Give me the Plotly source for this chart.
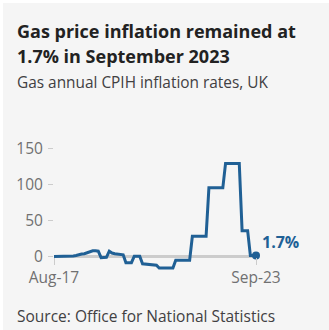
import pandas as pd
import plotly.graph_objects as go

# ---- data ----
months = pd.date_range("2017-08-01", "2023-09-01", freq="MS")
gas_rate = [
    0.0, 0.0, 0.3, 0.5, 0.5,            # Aug-Dec 2017
    0.8, 1.0, 1.0, 1.5, 3.0, 3.5, 4.0, 5.5, 6.5, 8.0, 8.0, 7.5,   # 2018
    -1.5, -1.5, -1.0, 7.5, 5.0, 4.0, 3.5, 3.0, 2.5, -8.5, -8.5, -8.5,  # 2019
    0.5, 0.5, 0.5, -10.0, -10.5, -11.0, -11.0, -11.5, -12.0, -16.0, -16.0, -16.0,  # 2020
    -16.0, -16.0, -16.0, -5.0, -5.0, -5.0, -5.0, -5.0, -5.0, 28.1, 28.1, 28.1,  # 2021
    28.1, 28.1, 28.1, 95.5, 95.5, 95.5, 95.5, 95.5, 95.5, 129.4, 129.4, 129.4,  # 2022
    129.4, 129.4, 129.4, 36.0, 36.0, 36.0, 1.7, 1.7, 1.7,   # Jan-Sep 2023
]
y_ticks = [0, 50, 100, 150]
x_tick_labels = ["Aug-17", "Sep-23"]
title_lines = ["Gas price inflation remained at", "1.7% in September 2023"]
subtitle = "Gas annual CPIH inflation rates, UK"
source = "Source: Office for National Statistics"
last_label = "1.7%"

# ---- layout geometry ----
W, H = 329, 330
L, R, T, B = 54, 73, 145, 59
PW, PH = W - L - R, H - T - B
y_range = [-20, 155]
zero_frac = (0 - y_range[0]) / (y_range[1] - y_range[0])

def pxx(x):
    return (x - L) / PW

def pxy(y):
    return (H - B - y) / PH

BLUE = "#206095"
FONT = "Open Sans"

fig = go.Figure()
fig.add_trace(go.Scatter(
    x=months, y=gas_rate, mode="lines",
    line=dict(color=BLUE, width=3), hoverinfo="skip", showlegend=False,
))
fig.add_trace(go.Scatter(
    x=[months[-1]], y=[gas_rate[-1]], mode="markers",
    marker=dict(color=BLUE, size=8), cliponaxis=False,
    hoverinfo="skip", showlegend=False,
))

annotations = [
    dict(text="<b>%s</b>" % title_lines[0], x=pxx(15), y=pxy(31), xanchor="left", yanchor="middle",
         font=dict(family=FONT, size=18, color="#222222")),
    dict(text="<b>%s</b>" % title_lines[1], x=pxx(15), y=pxy(55.5), xanchor="left", yanchor="middle",
         font=dict(family=FONT, size=18, color="#222222")),
    dict(text=subtitle, x=pxx(15), y=pxy(82.5), xanchor="left", yanchor="middle",
         font=dict(family=FONT, size=15.4, color="#414042")),
    dict(text=source, x=pxx(15), y=pxy(316), xanchor="left", yanchor="middle",
         font=dict(family=FONT, size=15.5, color="#414042")),
]
for a in annotations:
    a.update(xref="paper", yref="paper", showarrow=False)
annotations.append(dict(
    text="<b>%s</b>" % last_label, x=months[-1], y=gas_rate[-1], xref="x", yref="y",
    xanchor="left", yanchor="middle", xshift=4, yshift=13, showarrow=False,
    font=dict(family=FONT, size=16, color=BLUE),
))

fig.update_layout(
    width=W, height=H,
    margin=dict(l=L, r=R, t=T, b=B, pad=0),
    paper_bgcolor="#ffffff",
    plot_bgcolor="rgba(0,0,0,0)",
    annotations=annotations,
    shapes=[dict(type="rect", xref="paper", yref="paper",
                 x0=pxx(3), x1=pxx(329), y0=pxy(3), y1=pxy(330),
                 fillcolor="#f5f5f5", line=dict(width=0), layer="below")],
    xaxis=dict(
        type="date", range=[months[0], months[-1]],
        tickvals=[months[0], months[-1]], ticktext=x_tick_labels,
        showgrid=False, zeroline=False, showline=False,
        anchor="free", position=zero_frac,
        ticks="outside", ticklen=7, tickwidth=1, tickcolor="#cccccc",
        tickfont=dict(family=FONT, size=15.5, color="#707071"),
    ),
    yaxis=dict(
        range=y_range, tickvals=y_ticks,
        showgrid=False, showline=False,
        zeroline=True, zerolinecolor="#cccccc", zerolinewidth=3,
        ticks="outside", ticklen=5, tickwidth=1, tickcolor="#cccccc",
        ticklabelstandoff=2,
        tickfont=dict(family=FONT, size=15.5, color="#707071"),
    ),
    showlegend=False,
)

fig.write_html("out.html")
